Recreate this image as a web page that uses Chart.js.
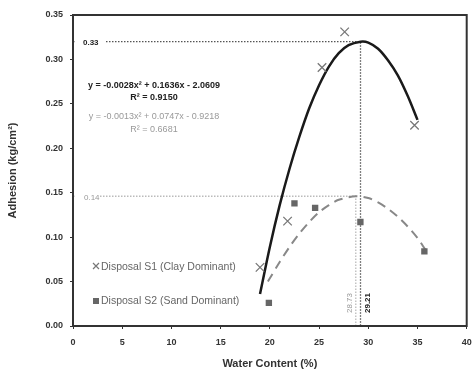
<!DOCTYPE html>
<html>
<head>
<meta charset="utf-8">
<script src="https://cdn.jsdelivr.net/npm/chart.js@4"></script>
<style>
  html, body { margin: 0; padding: 0; background: #fff; }
  #wrap { width: 474px; height: 371px; }
</style>
</head>
<body>
<div id="wrap"><canvas id="adhesionChart" width="474" height="371"></canvas></div>
<script>
// measured points
const clayWater = [19.0, 21.8, 25.3, 27.6, 34.7];
const clayAdhesion = [0.066, 0.118, 0.291, 0.331, 0.226];
const sandWater = [19.9, 22.5, 24.6, 29.2, 35.7];
const sandAdhesion = [0.026, 0.138, 0.133, 0.117, 0.084];

// trend curves
const clayFitWater = [19, 20, 21, 22, 23, 24, 25, 26, 27, 28, 29.21, 30, 31, 32, 33, 34, 35];
const clayFitAdhesion = [0.036, 0.089, 0.136, 0.177, 0.213, 0.245, 0.271, 0.292, 0.307, 0.316, 0.320, 0.319, 0.312, 0.299, 0.282, 0.259, 0.232];
const sandFitWater = [19.8, 21, 22, 23, 24, 25, 26, 27, 28.73, 30, 31, 32, 33, 34, 35, 35.8];
const sandFitAdhesion = [0.050, 0.072, 0.089, 0.104, 0.117, 0.128, 0.136, 0.142, 0.146, 0.144, 0.139, 0.132, 0.123, 0.112, 0.099, 0.086];

// optimum values
const clayOptWater = 29.21, clayOptAdhesion = 0.32;
const sandOptWater = 28.73, sandOptAdhesion = 0.146;

const xLabel = 'Water Content (%)';
const yLabel = 'Adhesion (kg/cm²)';
const clayName = 'Disposal S1 (Clay Dominant)';
const sandName = 'Disposal S2 (Sand Dominant)';
const clayEq = ['y = -0.0028x² + 0.1636x - 2.0609', 'R² = 0.9150'];
const sandEq = ['y = -0.0013x² + 0.0747x - 0.9218', 'R² = 0.6681'];

const FONT = 'Arial, "Liberation Sans", sans-serif';

function toPoints(xs, ys) {
    return xs.map((x, i) => ({ x: x, y: ys[i] }));
}

// frame, equations, legend and optimum labels
const overlay = {
    id: 'overlay',
    afterDraw(chart) {
        const ctx = chart.ctx;
        const a = chart.chartArea;
        const xs = chart.scales.x, ys = chart.scales.y;
        ctx.save();

        // frame
        ctx.strokeStyle = '#333';
        ctx.lineWidth = 2;
        ctx.strokeRect(a.left, a.top, a.right - a.left, a.bottom - a.top);

        // equations
        ctx.textAlign = 'center';
        ctx.textBaseline = 'middle';
        ctx.font = 'bold 9px ' + FONT;
        ctx.fillStyle = '#222';
        ctx.fillText(clayEq[0], 154, 86);
        ctx.fillText(clayEq[1], 154, 98);
        ctx.font = '9px ' + FONT;
        ctx.fillStyle = '#999';
        ctx.fillText(sandEq[0], 154, 117);
        ctx.fillText(sandEq[1], 154, 130);

        // optimum labels, on a white patch over the dotted line
        ctx.textAlign = 'left';
        let yp = ys.getPixelForValue(clayOptAdhesion);
        ctx.fillStyle = '#fff';
        ctx.fillRect(a.left + 2, yp - 6, 30, 12);
        ctx.font = 'bold 8px ' + FONT;
        ctx.fillStyle = '#222';
        ctx.fillText('0.33', a.left + 10, yp + 1);
        yp = ys.getPixelForValue(sandOptAdhesion);
        ctx.fillStyle = '#fff';
        ctx.fillRect(a.left + 2, yp - 6, 25, 12);
        ctx.font = '8px ' + FONT;
        ctx.fillStyle = '#999';
        ctx.fillText('0.14', a.left + 11, yp + 2);

        // rotated water content labels
        ctx.save();
        ctx.translate(xs.getPixelForValue(sandOptWater) - 6, a.bottom - 23);
        ctx.rotate(-Math.PI / 2);
        ctx.textAlign = 'center';
        ctx.fillStyle = '#999';
        ctx.font = '8px ' + FONT;
        ctx.fillText('28.73', 0, 0);
        ctx.restore();
        ctx.save();
        ctx.translate(xs.getPixelForValue(clayOptWater) + 7, a.bottom - 23);
        ctx.rotate(-Math.PI / 2);
        ctx.textAlign = 'center';
        ctx.fillStyle = '#222';
        ctx.font = 'bold 8px ' + FONT;
        ctx.fillText('29.21', 0, 0);
        ctx.restore();

        // legend
        ctx.font = '10.5px ' + FONT;
        ctx.textAlign = 'left';
        ctx.strokeStyle = '#777';
        ctx.lineWidth = 1.2;
        ctx.beginPath();
        ctx.moveTo(93, 263); ctx.lineTo(99, 269);
        ctx.moveTo(99, 263); ctx.lineTo(93, 269);
        ctx.stroke();
        ctx.fillStyle = '#666';
        ctx.fillText(clayName, 101, 267);
        ctx.fillRect(93, 298, 6, 6);
        ctx.fillText(sandName, 101, 301);

        ctx.restore();
    }
};

const refStyle = {
    showLine: true, pointRadius: 0, fill: false, tension: 0, order: 5
};

new Chart(document.getElementById('adhesionChart'), {
    type: 'scatter',
    data: {
        datasets: [
            Object.assign({
                label: 'clay optimum',
                data: [{ x: 0, y: clayOptAdhesion }, { x: clayOptWater, y: clayOptAdhesion }, { x: clayOptWater, y: 0 }],
                borderColor: '#555', borderWidth: 1.3, borderDash: [1.5, 1.5]
            }, refStyle),
            Object.assign({
                label: 'sand optimum',
                data: [{ x: 0, y: sandOptAdhesion }, { x: sandOptWater, y: sandOptAdhesion }, { x: sandOptWater, y: 0 }],
                borderColor: '#bbb', borderWidth: 1.3, borderDash: [1.5, 1.5]
            }, refStyle),
            {
                label: 'clay fit',
                data: toPoints(clayFitWater, clayFitAdhesion),
                showLine: true, pointRadius: 0, borderColor: '#1a1a1a', borderWidth: 2.5,
                tension: 0.3, order: 2
            },
            {
                label: 'sand fit',
                data: toPoints(sandFitWater, sandFitAdhesion),
                showLine: true, pointRadius: 0, borderColor: '#888', borderWidth: 2,
                borderDash: [9, 6], tension: 0.3, order: 2
            },
            {
                label: clayName,
                data: toPoints(clayWater, clayAdhesion),
                pointStyle: 'crossRot', pointRadius: 6, borderColor: '#777', borderWidth: 1.3,
                showLine: false, order: 1
            },
            {
                label: sandName,
                data: toPoints(sandWater, sandAdhesion),
                pointStyle: 'rect', pointRadius: 4.5, backgroundColor: '#666', borderColor: '#666',
                borderWidth: 0, showLine: false, order: 1
            }
        ]
    },
    options: {
        responsive: false,
        animation: false,
        layout: { padding: { top: 15, right: 0, left: 0, bottom: 0 } },
        plugins: { legend: { display: false }, tooltip: { enabled: false } },
        scales: {
            x: {
                type: 'linear', min: 0, max: 40,
                ticks: { stepSize: 5, color: '#333', font: { family: FONT, size: 9, weight: 'bold' }, padding: 8 },
                grid: { display: true, drawOnChartArea: false, tickLength: 3, color: '#333' },
                border: { color: '#333', width: 2 },
                title: { display: true, text: xLabel, color: '#333', font: { family: FONT, size: 11, weight: 'bold' }, padding: { top: 3, bottom: 0 } },
                afterFit(scale) {
                    scale.height = 45;
                    scale.paddingRight = 7;
                }
            },
            y: {
                type: 'linear', min: 0, max: 0.35,
                ticks: {
                    stepSize: 0.05, color: '#333', font: { family: FONT, size: 9, weight: 'bold' }, padding: 7,
                    callback: v => v.toFixed(2)
                },
                grid: { display: true, drawOnChartArea: false, tickLength: 3, color: '#333' },
                border: { color: '#333', width: 2 },
                title: { display: true, text: yLabel, color: '#333', font: { family: FONT, size: 11, weight: 'bold' }, padding: { top: 6, bottom: 0 } },
                afterFit(scale) { scale.width = 73; }
            }
        }
    },
    plugins: [overlay]
});
</script>
</body>
</html>
